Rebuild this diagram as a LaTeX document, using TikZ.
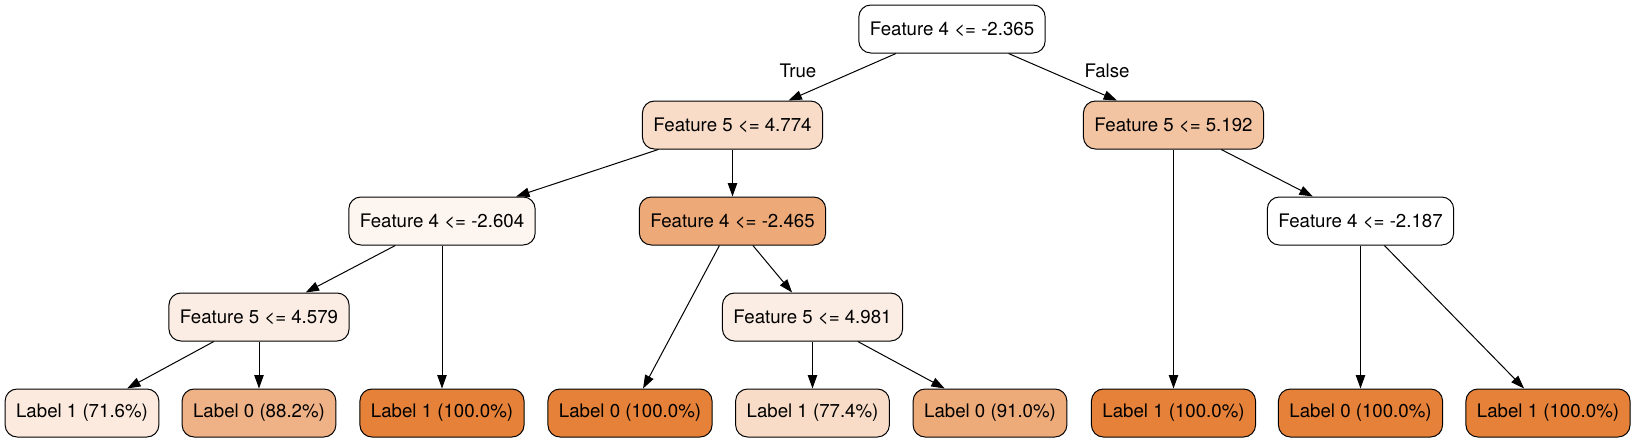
\documentclass[tikz,border=0pt]{standalone}
\usepackage{fontspec}
\setmainfont{TeX Gyre Heros}
\usepackage{xcolor}
\usepackage{tikz}
\usetikzlibrary{arrows.meta}
\definecolor{gvorange}{HTML}{E58139}
\tikzset{test/.style={draw, rounded corners=9pt, line width=0.75pt, minimum height=36pt, inner xsep=8.25pt, font=\fontsize{14}{17}\selectfont}}
\tikzset{leaf/.style={test}}
\tikzset{branch/.style={-{Triangle[length=10pt,width=7pt]}, line width=0.75pt}}

\begin{document}
\begin{tikzpicture}[x=0.75pt,y=-0.75pt]
    \useasboundingbox (0,0) rectangle (1636,443);
    \node[test, fill=white] (A1) at (952, 29) {Feature 4 <= -2.365};
    \node[test, fill=gvorange!28] (B1) at (732.5, 125) {Feature 5 <= 4.774};
    \node[test, fill=gvorange!47] (B2) at (1173.5, 125) {Feature 5 <= 5.192};
    \node[test, fill=gvorange!8] (C1) at (442, 221) {Feature 4 <= -2.604};
    \node[test, fill=gvorange!68] (C2) at (732.5, 221) {Feature 4 <= -2.465};
    \node[test, fill=white] (C3) at (1360.5, 221) {Feature 4 <= -2.187};
    \node[test, fill=gvorange!14] (D1) at (259, 317) {Feature 5 <= 4.579};
    \node[test, fill=gvorange!14] (D2) at (812.5, 317) {Feature 5 <= 4.981};
    \node[leaf, fill=gvorange!17] (E1) at (82, 413) {Label 1 (71.6\%)};
    \node[leaf, fill=gvorange!61] (E2) at (259, 413) {Label 0 (88.2\%)};
    \node[leaf, fill=gvorange] (E3) at (442, 413) {Label 1 (100.0\%)};
    \node[leaf, fill=gvorange] (E4) at (630, 413) {Label 0 (100.0\%)};
    \node[leaf, fill=gvorange!28] (E5) at (812.5, 413) {Label 1 (77.4\%)};
    \node[leaf, fill=gvorange!67] (E6) at (990, 413) {Label 0 (91.0\%)};
    \node[leaf, fill=gvorange] (E7) at (1173.5, 413) {Label 1 (100.0\%)};
    \node[leaf, fill=gvorange] (E8) at (1360.5, 413) {Label 0 (100.0\%)};
    \node[leaf, fill=gvorange] (E9) at (1548, 413) {Label 1 (100.0\%)};
    \node[font=\fontsize{14}{17}\selectfont] (lblT) at (798, 71) {True};
    \node[font=\fontsize{14}{17}\selectfont] (lblF) at (1107, 71) {False};

    \draw[branch] (A1) -- (B1);
    \draw[branch] (A1) -- (B2);
    \draw[branch] (B1) -- (C1);
    \draw[branch] (B1) -- (C2);
    \draw[branch] (B2) -- (E7);
    \draw[branch] (B2) -- (C3);
    \draw[branch] (C1) -- (D1);
    \draw[branch] (C1) -- (E3);
    \draw[branch] (C2) -- (E4);
    \draw[branch] (C2) -- (D2);
    \draw[branch] (C3) -- (E8);
    \draw[branch] (C3) -- (E9);
    \draw[branch] (D1) -- (E1);
    \draw[branch] (D1) -- (E2);
    \draw[branch] (D2) -- (E5);
    \draw[branch] (D2) -- (E6);
\end{tikzpicture}
\end{document}
